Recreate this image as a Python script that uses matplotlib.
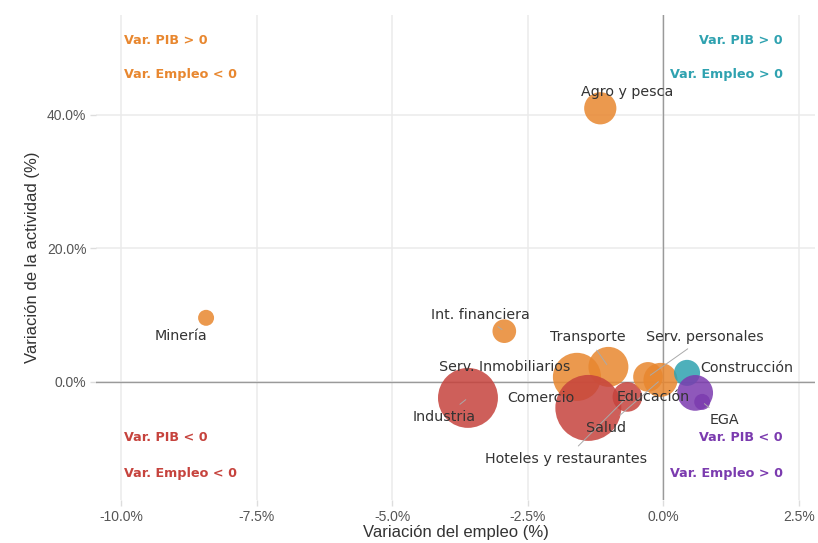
import numpy as np
import matplotlib
matplotlib.use("Agg")
import matplotlib.pyplot as plt
from matplotlib.ticker import FuncFormatter, FixedLocator

# Datos por sector
sectores = ["Agro y pesca", "Minería", "Int. financiera", "Industria",
            "Serv. Inmobiliarios", "Transporte", "Comercio",
            "Hoteles y restaurantes", "Serv. personales", "Salud",
            "Construcción", "Educación", "EGA"]
var_empleo = [-1.16, -8.43, -2.93, -3.60, -1.59, -1.01, -1.38,
              -0.66, -0.28, -0.05, 0.44, 0.59, 0.72]
var_pib = [41.0, 9.6, 7.6, -2.4, 0.75, 2.25, -3.9,
           -2.25, 0.75, 0.3, 1.35, -1.65, -3.0]
peso = [26, 6.4, 14, 90, 58, 40, 109, 22, 22, 29, 17, 32, 6.4]

x_ticks = [-10.0, -7.5, -5.0, -2.5, 0.0, 2.5]
y_ticks = [0.0, 20.0, 40.0]

# Colores por cuadrante
c_naranja = "#E8872F"
c_verde = "#2FA2B0"
c_rojo = "#C6433D"
c_morado = "#7B3BAF"

def color_cuadrante(x, y):
    if x < 0 and y >= 0:
        return c_naranja
    if x >= 0 and y >= 0:
        return c_verde
    if x < 0 and y < 0:
        return c_rojo
    return c_morado

colores = [color_cuadrante(x, y) for x, y in zip(var_empleo, var_pib)]

# desplazamiento de etiquetas (puntos) y si llevan linea guia
etiquetas = {
    "Agro y pesca": ((19, 11.5), False),
    "Minería": ((-18, -13), False),
    "Int. financiera": ((-17, 12), True),
    "Industria": ((-17, -13.5), True),
    "Serv. Inmobiliarios": ((-52, 7), False),
    "Transporte": ((-15, 21.5), True),
    "Comercio": ((-34.5, 7), False),
    "Hoteles y restaurantes": ((-44.5, -44.5), True),
    "Serv. personales": ((41, 29), True),
    "Salud": ((-39.5, -34.5), True),
    "Construcción": ((43, 3.6), False),
    "Educación": ((-30, -3), False),
    "EGA": ((16, -13), True),
}

fig = plt.figure(figsize=(8.18, 5.43), dpi=100)
ax = fig.add_axes([96 / 818, 43 / 543, 719 / 818, 485 / 543])

ax.set_xlim(-10.46, 2.80)
ax.set_ylim(-17.7, 54.98)

ax.xaxis.set_major_locator(FixedLocator(x_ticks))
ax.yaxis.set_major_locator(FixedLocator(y_ticks))
ax.xaxis.set_major_formatter(FuncFormatter(lambda v, p: f"{v:.1f}%"))
ax.yaxis.set_major_formatter(FuncFormatter(lambda v, p: f"{v:.1f}%"))
ax.grid(True, color="#EBEBEB", lw=1.1, zorder=0)
ax.set_axisbelow(True)
for s in ax.spines.values():
    s.set_visible(False)
ax.tick_params(axis="both", colors="#DDDDDD", length=4, width=1,
               labelcolor="#555555", labelsize=10)
ax.tick_params(axis="x", pad=3)
ax.tick_params(axis="y", pad=3)
for lab in ax.get_xticklabels() + ax.get_yticklabels():
    lab.set_fontfamily("Liberation Sans")

ax.axhline(0, color="#9A9A9A", lw=1.0, zorder=1)
ax.axvline(0, color="#9A9A9A", lw=1.0, zorder=1)

tam = np.array(peso) * 20.7
ax.scatter(var_empleo, var_pib, s=tam, c=colores, alpha=0.85,
           edgecolors="none", zorder=3)

for nombre, x, y in zip(sectores, var_empleo, var_pib):
    (dx, dy), linea = etiquetas[nombre]
    props = None
    if linea:
        props = dict(arrowstyle="-", color="#AAAAAA", lw=0.7,
                     shrinkA=3, shrinkB=2)
    ax.annotate(nombre, (x, y), xytext=(dx, dy), textcoords="offset points",
                ha="center", va="center", fontsize=10.3, color="#333333",
                family="DejaVu Sans", arrowprops=props, zorder=4)

# Textos de cuadrantes
kw = dict(fontsize=9.2, fontweight="bold", family="DejaVu Sans", zorder=5)
ax.text(-9.94, 51.1, "Var. PIB > 0", color=c_naranja, ha="left", va="center", **kw)
ax.text(-9.94, 46.1, "Var. Empleo < 0", color=c_naranja, ha="left", va="center", **kw)
ax.text(2.21, 51.1, "Var. PIB > 0", color=c_verde, ha="right", va="center", **kw)
ax.text(2.21, 46.1, "Var. Empleo > 0", color=c_verde, ha="right", va="center", **kw)
ax.text(-9.94, -8.4, "Var. PIB < 0", color=c_rojo, ha="left", va="center", **kw)
ax.text(-9.94, -13.8, "Var. Empleo < 0", color=c_rojo, ha="left", va="center", **kw)
ax.text(2.21, -8.4, "Var. PIB < 0", color=c_morado, ha="right", va="center", **kw)
ax.text(2.21, -13.8, "Var. Empleo > 0", color=c_morado, ha="right", va="center", **kw)

ax.set_xlabel("Variación del empleo (%)", fontsize=12, color="#333333",
              family="Liberation Sans", labelpad=1)
ax.set_ylabel("Variación de la actividad (%)", fontsize=12, color="#333333",
              family="Liberation Sans", labelpad=5)

fig.savefig("out.png", dpi=100)
